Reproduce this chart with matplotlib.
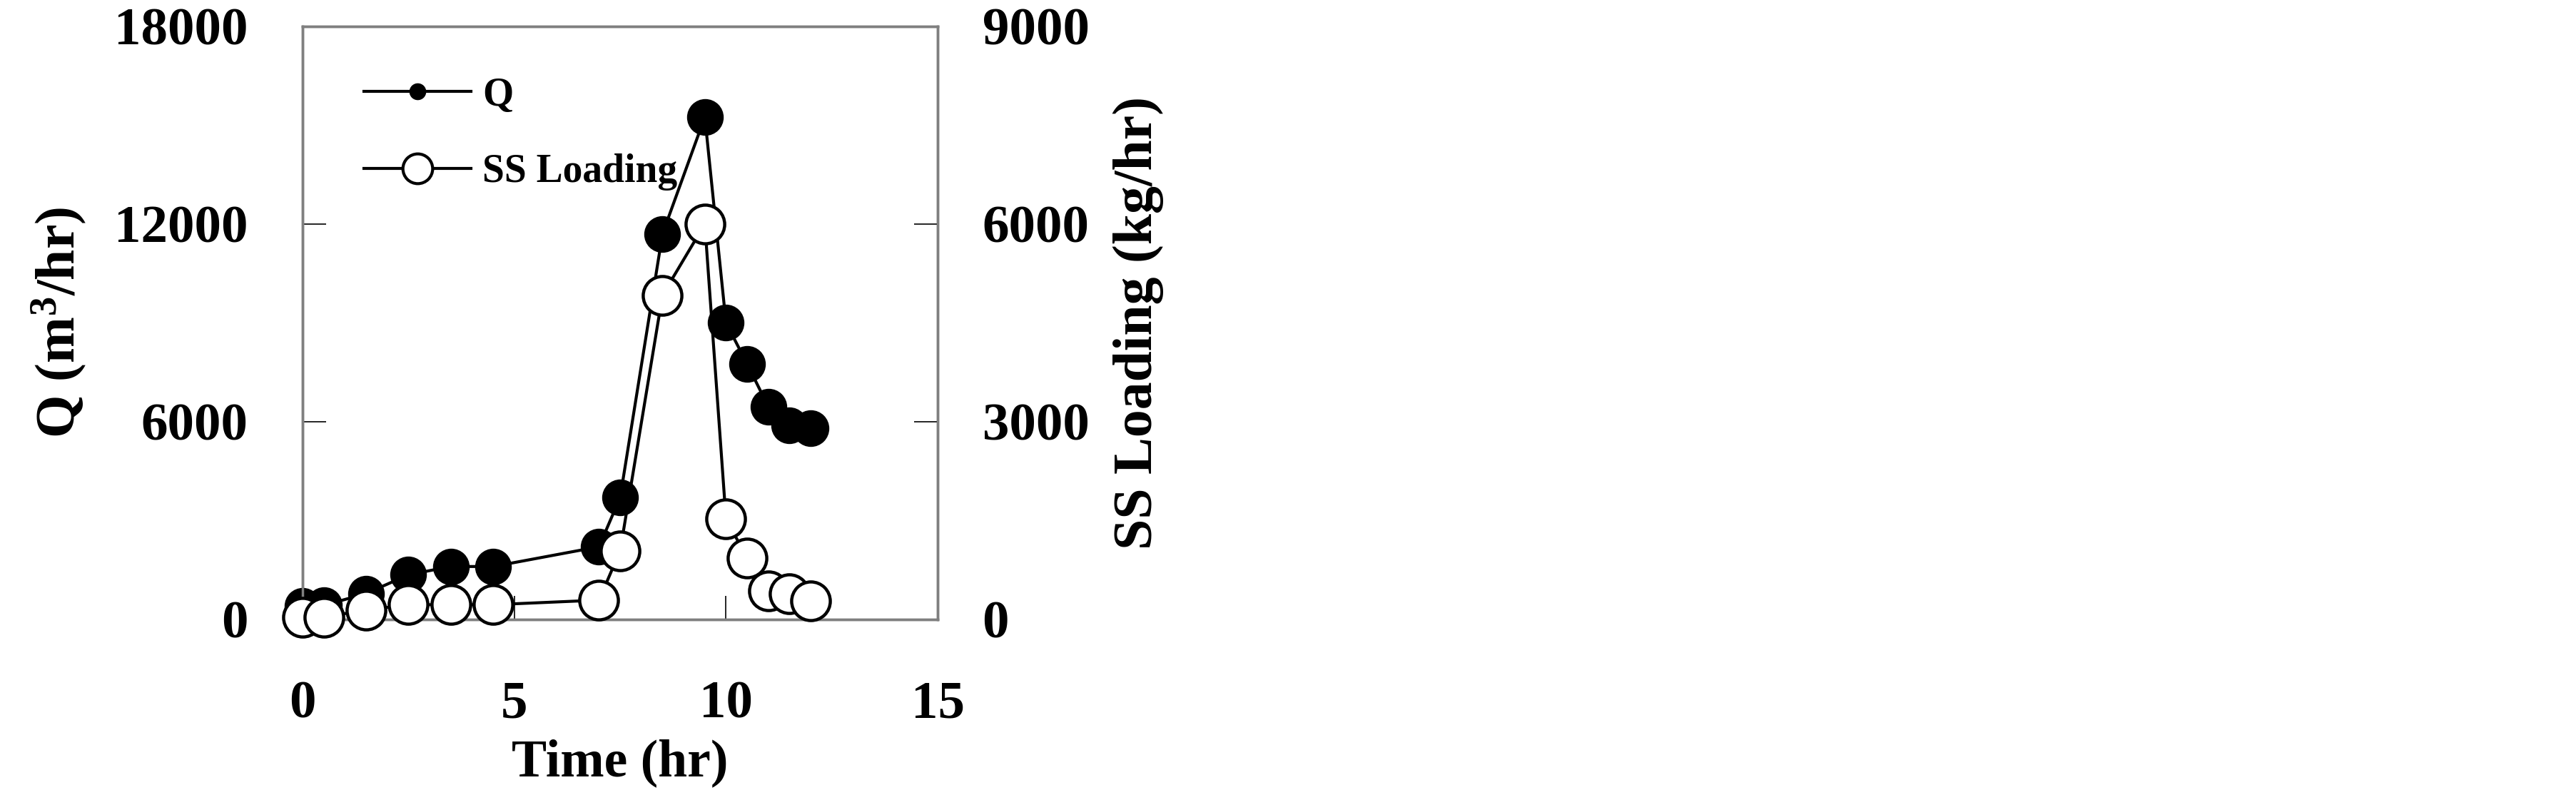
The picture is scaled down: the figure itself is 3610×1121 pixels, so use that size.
import matplotlib
matplotlib.use('Agg')
from matplotlib import pyplot as plt
from matplotlib.lines import Line2D

plt.rcParams['font.family'] = ['Liberation Serif', 'DejaVu Serif']
plt.rcParams['font.weight'] = 'bold'
plt.rcParams['axes.labelweight'] = 'bold'
plt.rcParams['mathtext.fontset'] = 'custom'
plt.rcParams['mathtext.rm'] = 'Liberation Serif:bold'
plt.rcParams['mathtext.it'] = 'Liberation Serif:bold'
plt.rcParams['mathtext.bf'] = 'Liberation Serif:bold'

# data
time_hr = [0.0, 0.5, 1.5, 2.5, 3.5, 4.5, 7.0, 7.5, 8.5, 9.5, 10.0, 10.5, 11.0, 11.5, 12.0]
q_m3_hr = [400, 420, 780, 1350, 1600, 1600, 2200, 3700, 11700, 15250, 9000, 7750, 6450, 5880, 5800]
ss_kg_hr = [30, 30, 140, 220, 220, 220, 290, 1040, 4920, 6000, 1520, 930, 430, 390, 280]

x_ticks = [0, 5, 10, 15]
q_ticks = [0, 6000, 12000, 18000]
ss_ticks = [0, 3000, 6000, 9000]

fig = plt.figure(figsize=(36.10, 11.21), dpi=100)
ax = fig.add_axes([0.1175, 0.226, 0.2465, 0.741])
ax2 = ax.twinx()

ax.plot(time_hr, q_m3_hr, color='black', lw=3, marker='o', ms=36,
        mfc='black', mec='black', clip_on=False, zorder=3)
ax2.plot(time_hr, ss_kg_hr, color='black', lw=3, marker='o', ms=39,
         mfc='white', mec='black', mew=3.2, clip_on=False, zorder=3)

ax.set_xlim(0, 15)
ax.set_ylim(0, 18000)
ax2.set_ylim(0, 9000)
ax.set_xticks(x_ticks)
ax.set_yticks(q_ticks)
ax2.set_yticks(ss_ticks)

ax.tick_params(axis='x', direction='in', length=24, width=1.2, pad=62,
               labelsize=54, top=False)
ax.tick_params(axis='y', direction='in', length=24, width=1.2, pad=55,
               labelsize=54)
ax2.tick_params(axis='y', direction='in', length=24, width=1.2, pad=45,
                labelsize=54)

for a in (ax, ax2):
    for sp in a.spines.values():
        sp.set_color('#7f7f7f')
        sp.set_linewidth(2.5)

ax.set_xlabel('Time (hr)', fontsize=53, labelpad=10)
ax.set_ylabel('Q (m$^3$/hr)', fontsize=56, labelpad=26)
ax2.set_ylabel('SS Loading (kg/hr)', fontsize=56, labelpad=24)

handles = [
    Line2D([], [], color='black', lw=3, marker='o', ms=16, mfc='black', mec='black'),
    Line2D([], [], color='black', lw=3, marker='o', ms=30, mfc='white', mec='black', mew=3),
]
ax.legend(handles, ['Q', 'SS Loading'], loc='upper left', bbox_to_anchor=(0.04, 0.975),
          frameon=False, fontsize=40, handlelength=2.7, handletextpad=0.3,
          labelspacing=1.0)

fig.savefig('out.png', dpi=100)
